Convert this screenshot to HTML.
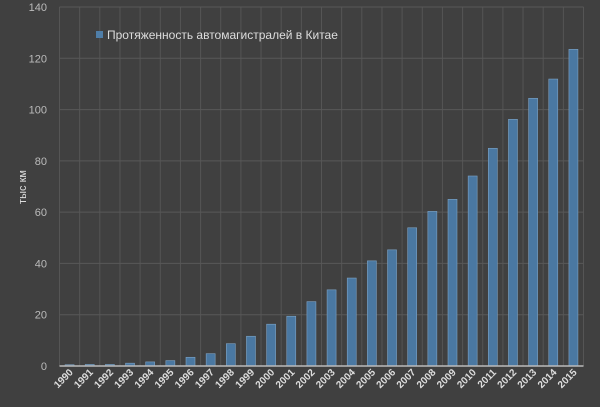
<!DOCTYPE html><html><head><style>body{margin:0;background:#404040}svg{display:block}text{font-family:"Liberation Sans",sans-serif}</style></head><body>
<svg width="600" height="407" viewBox="0 0 600 407" xmlns="http://www.w3.org/2000/svg">
<rect width="600" height="407" fill="#404040"/>
<g stroke="#555" stroke-width="1">
<line x1="59.5" y1="7" x2="59.5" y2="366"/><line x1="79.65" y1="7" x2="79.65" y2="366"/><line x1="99.81" y1="7" x2="99.81" y2="366"/><line x1="119.96" y1="7" x2="119.96" y2="366"/><line x1="140.12" y1="7" x2="140.12" y2="366"/><line x1="160.27" y1="7" x2="160.27" y2="366"/><line x1="180.42" y1="7" x2="180.42" y2="366"/><line x1="200.58" y1="7" x2="200.58" y2="366"/><line x1="220.73" y1="7" x2="220.73" y2="366"/><line x1="240.88" y1="7" x2="240.88" y2="366"/><line x1="261.04" y1="7" x2="261.04" y2="366"/><line x1="281.19" y1="7" x2="281.19" y2="366"/><line x1="301.35" y1="7" x2="301.35" y2="366"/><line x1="321.5" y1="7" x2="321.5" y2="366"/><line x1="341.65" y1="7" x2="341.65" y2="366"/><line x1="361.81" y1="7" x2="361.81" y2="366"/><line x1="381.96" y1="7" x2="381.96" y2="366"/><line x1="402.12" y1="7" x2="402.12" y2="366"/><line x1="422.27" y1="7" x2="422.27" y2="366"/><line x1="442.42" y1="7" x2="442.42" y2="366"/><line x1="462.58" y1="7" x2="462.58" y2="366"/><line x1="482.73" y1="7" x2="482.73" y2="366"/><line x1="502.88" y1="7" x2="502.88" y2="366"/><line x1="523.04" y1="7" x2="523.04" y2="366"/><line x1="543.19" y1="7" x2="543.19" y2="366"/><line x1="563.35" y1="7" x2="563.35" y2="366"/><line x1="583.5" y1="7" x2="583.5" y2="366"/>
</g>
<g stroke="#585858" stroke-width="1">
<line x1="59.5" y1="314.71" x2="583.5" y2="314.71"/><line x1="59.5" y1="263.43" x2="583.5" y2="263.43"/><line x1="59.5" y1="212.14" x2="583.5" y2="212.14"/><line x1="59.5" y1="160.86" x2="583.5" y2="160.86"/><line x1="59.5" y1="109.57" x2="583.5" y2="109.57"/><line x1="59.5" y1="58.29" x2="583.5" y2="58.29"/><line x1="59.5" y1="7" x2="583.5" y2="7"/>
</g>
<g fill="#bbb" font-size="11" text-anchor="end">
<text x="47" y="370">0</text><text x="47" y="318.7">20</text><text x="47" y="267.4">40</text><text x="47" y="216.1">60</text><text x="47" y="164.9">80</text><text x="47" y="113.6">100</text><text x="47" y="62.3">120</text><text x="47" y="11">140</text>
</g>
<g fill="#4a78a2" stroke="#7ea3c4" stroke-width="0.6">
<rect x="65.08" y="364.72" width="9" height="1.28"/>
<rect x="85.23" y="364.46" width="9" height="1.54"/>
<rect x="105.38" y="364.46" width="9" height="1.54"/>
<rect x="125.54" y="363.18" width="9" height="2.82"/>
<rect x="145.69" y="361.9" width="9" height="4.1"/>
<rect x="165.85" y="360.61" width="9" height="5.39"/>
<rect x="186" y="357.28" width="9" height="8.72"/>
<rect x="206.15" y="353.69" width="9" height="12.31"/>
<rect x="226.31" y="343.69" width="9" height="22.31"/>
<rect x="246.46" y="336.25" width="9" height="29.75"/>
<rect x="266.62" y="324.2" width="9" height="41.8"/>
<rect x="286.77" y="316.25" width="9" height="49.75"/>
<rect x="306.92" y="301.64" width="9" height="64.36"/>
<rect x="327.08" y="289.84" width="9" height="76.16"/>
<rect x="347.23" y="278.04" width="9" height="87.96"/>
<rect x="367.38" y="260.86" width="9" height="105.14"/>
<rect x="387.54" y="249.84" width="9" height="116.16"/>
<rect x="407.69" y="227.78" width="9" height="138.22"/>
<rect x="427.85" y="211.37" width="9" height="154.63"/>
<rect x="448" y="199.32" width="9" height="166.68"/>
<rect x="468.15" y="175.99" width="9" height="190.01"/>
<rect x="488.31" y="148.29" width="9" height="217.71"/>
<rect x="508.46" y="119.31" width="9" height="246.69"/>
<rect x="528.62" y="98.29" width="9" height="267.71"/>
<rect x="548.77" y="79.05" width="9" height="286.95"/>
<rect x="568.92" y="49.31" width="9" height="316.69"/>
</g>
<line x1="59.5" y1="366" x2="583.5" y2="366" stroke="#bbb" stroke-width="1.5"/>
<g fill="#ddd" font-size="10" font-weight="bold" text-anchor="end">
<text transform="translate(73.6,373) rotate(-45)">1990</text>
<text transform="translate(93.7,373) rotate(-45)">1991</text>
<text transform="translate(113.9,373) rotate(-45)">1992</text>
<text transform="translate(134,373) rotate(-45)">1993</text>
<text transform="translate(154.2,373) rotate(-45)">1994</text>
<text transform="translate(174.3,373) rotate(-45)">1995</text>
<text transform="translate(194.5,373) rotate(-45)">1996</text>
<text transform="translate(214.7,373) rotate(-45)">1997</text>
<text transform="translate(234.8,373) rotate(-45)">1998</text>
<text transform="translate(255,373) rotate(-45)">1999</text>
<text transform="translate(275.1,373) rotate(-45)">2000</text>
<text transform="translate(295.3,373) rotate(-45)">2001</text>
<text transform="translate(315.4,373) rotate(-45)">2002</text>
<text transform="translate(335.6,373) rotate(-45)">2003</text>
<text transform="translate(355.7,373) rotate(-45)">2004</text>
<text transform="translate(375.9,373) rotate(-45)">2005</text>
<text transform="translate(396,373) rotate(-45)">2006</text>
<text transform="translate(416.2,373) rotate(-45)">2007</text>
<text transform="translate(436.3,373) rotate(-45)">2008</text>
<text transform="translate(456.5,373) rotate(-45)">2009</text>
<text transform="translate(476.7,373) rotate(-45)">2010</text>
<text transform="translate(496.8,373) rotate(-45)">2011</text>
<text transform="translate(517,373) rotate(-45)">2012</text>
<text transform="translate(537.1,373) rotate(-45)">2013</text>
<text transform="translate(557.3,373) rotate(-45)">2014</text>
<text transform="translate(577.4,373) rotate(-45)">2015</text>
</g>
<text transform="translate(26,187) rotate(-90)" fill="#ddd" font-size="11" text-anchor="middle">тыс км</text>
<rect x="96" y="31" width="7" height="7" fill="#4f7ea8"/>
<text x="107" y="39" fill="#ddd" font-size="12">Протяженность автомагистралей в Китае</text>
</svg></body></html>
